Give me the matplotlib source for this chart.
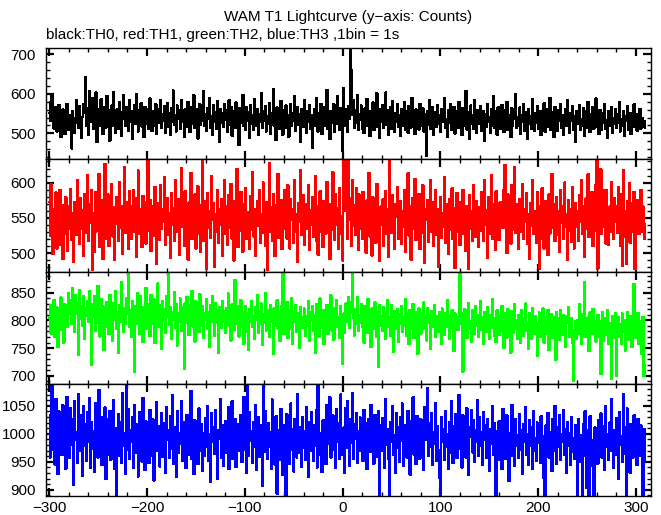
import numpy as np
import matplotlib
matplotlib.use("Agg")
import matplotlib.pyplot as plt
from matplotlib.ticker import MultipleLocator

plt.rcParams['font.family'] = ['Liberation Sans', 'DejaVu Sans']
plt.rcParams['font.size'] = 11

# 1 s bins, t = -300 .. 309
t_start = -300

th0 = [
    552, 531, 580, 598, 540, 512, 566, 523, 505, 548, 571, 529, 490, 537, 560, 544, 498, 521, 575, 533,
    509, 546, 520, 462, 555, 538, 501, 527, 584, 547, 515, 568, 530, 489, 541, 575, 552, 642, 520, 563,
    497, 607, 545, 528, 590, 512, 554, 536, 603, 478, 562, 541, 519, 586, 530, 499, 567, 548, 515, 595,
    526, 558, 481, 547, 570, 519, 604, 535, 502, 560, 543, 512, 578, 528, 493, 553, 596, 537, 518, 565,
    544, 507, 583, 529, 556, 486, 541, 571, 523, 600, 538, 505, 559, 532, 576, 517, 548, 490, 567, 539,
    524, 562, 511, 588, 535, 506, 555, 543, 520, 574, 498, 536, 561, 527, 585, 513, 549, 531, 568, 502,
    540, 577, 516, 552, 495, 563, 530, 608, 521, 546, 505, 570, 537, 558, 512, 584, 529, 547, 491, 561,
    534, 517, 579, 542, 503, 566, 525, 551, 596, 514, 538, 560, 487, 545, 573, 522, 556, 532, 606, 519,
    548, 507, 564, 536, 589, 515, 543, 497, 571, 528, 554, 511, 582, 539, 479, 562, 527, 550, 516, 575,
    533, 559, 504, 546, 584, 521, 567, 494, 540, 555, 513, 578, 530, 548, 470, 563, 526, 543, 597, 518,
    539, 508, 566, 531, 553, 488, 572, 524, 545, 510, 587, 535, 519, 561, 496, 549, 528, 602, 514, 557,
    532, 568, 505, 544, 523, 576, 499, 550, 537, 612, 520, 547, 483, 565, 529, 556, 511, 581, 534, 497,
    559, 526, 570, 513, 547, 491, 538, 574, 518, 552, 531, 595, 506, 543, 566, 522, 549, 478, 561, 535,
    517, 583, 540, 501, 557, 528, 571, 512, 546, 464, 536, 562, 520, 589, 533, 505, 551, 527, 574, 498,
    543, 518, 566, 532, 609, 511, 549, 486, 556, 527, 538, 574, 503, 560, 524, 593, 541, 509, 563, 530,
    455, 615, 520, 562, 541, 503, 568, 537, 740, 660, 548, 585, 515, 558, 527, 596, 509, 548, 533, 570,
    512, 546, 501, 563, 529, 587, 519, 541, 494, 557, 535, 578, 508, 550, 526, 601, 517, 544, 488, 562,
    530, 571, 514, 547, 603, 522, 558, 497, 539, 566, 511, 582, 533, 505, 552, 528, 574, 516, 545, 493,
    561, 520, 548, 579, 509, 537, 556, 502, 569, 531, 515, 590, 524, 543, 498, 560, 527, 552, 510, 575,
    536, 518, 563, 505, 549, 529, 442, 557, 521, 584, 512, 540, 566, 495, 531, 553, 516, 572, 524, 547,
    503, 561, 528, 545, 589, 514, 537, 492, 558, 526, 573, 509, 544, 521, 567, 500, 536, 555, 513, 580,
    529, 548, 496, 564, 519, 541, 607, 510, 553, 532, 487, 570, 525, 546, 511, 585, 534, 501, 559, 523,
    544, 568, 507, 530, 556, 481, 549, 517, 575, 528, 540, 502, 562, 520, 594, 513, 538, 555, 497, 566,
    526, 543, 511, 571, 535, 504, 558, 522, 580, 509, 547, 531, 490, 563, 518, 552, 536, 599, 514, 541,
    520, 565, 499, 546, 528, 573, 507, 539, 554, 485, 560, 523, 544, 512, 586, 530, 506, 551, 527, 569,
    511, 538, 557, 495, 549, 521, 576, 504, 533, 562, 516, 545, 589, 509, 529, 553, 491, 567, 524, 540,
    506, 558, 532, 574, 513, 547, 497, 539, 561, 518, 583, 527, 501, 550, 531, 568, 510, 543, 479, 557,
    525, 546, 572, 508, 536, 519, 563, 494, 541, 555, 515, 579, 528, 503, 548, 523, 566, 512, 537, 588,
    517, 542, 498, 559, 530, 508, 551, 526, 575, 511, 534, 489, 556, 520, 545, 567, 502, 538, 524, 561,
    513, 549, 527, 580, 505, 536, 520, 557, 493, 544, 531, 569, 510, 528, 552, 498, 540, 516, 573, 522,
    535, 507, 548, 527, 562, 512, 539, 520, 531, 515,
]

th1 = [
    573, 525, 598, 548, 499, 562, 531, 586, 507, 555, 538, 590, 512, 568, 492, 545, 527, 579, 551, 503,
    566, 534, 591, 519, 557, 488, 573, 541, 526, 604, 549, 513, 578, 535, 561, 497, 584, 529, 552, 610,
    518, 569, 543, 590, 477, 557, 502, 586, 531, 563, 545, 612, 509, 575, 538, 492, 559, 626, 521, 547,
    583, 510, 556, 534, 598, 524, 565, 491, 542, 579, 550, 517, 601, 536, 567, 499, 555, 622, 529, 573,
    541, 506, 588, 552, 520, 566, 589, 531, 578, 495, 554, 617, 527, 562, 540, 509, 581, 546, 572, 514,
    559, 631, 532, 575, 503, 548, 566, 525, 594, 539, 485, 571, 553, 519, 597, 535, 562, 544, 608, 512,
    547, 578, 526, 557, 493, 585, 540, 564, 518, 603, 551, 530, 576, 498, 559, 621, 537, 566, 510, 588,
    533, 556, 491, 572, 545, 614, 520, 561, 538, 583, 507, 549, 595, 528, 568, 502, 553, 631, 517, 574,
    544, 478, 585, 536, 560, 522, 609, 547, 571, 481, 556, 530, 590, 515, 562, 541, 577, 496, 551, 604,
    528, 566, 512, 582, 549, 536, 598, 521, 557, 490, 574, 543, 619, 509, 563, 532, 587, 545, 502, 569,
    537, 592, 520, 558, 546, 506, 581, 533, 615, 524, 563, 497, 552, 574, 539, 589, 515, 556, 529, 600,
    543, 511, 572, 476, 559, 627, 531, 565, 518, 584, 550, 496, 568, 537, 612, 522, 548, 575, 506, 560,
    534, 589, 553, 521, 596, 541, 507, 577, 548, 563, 515, 603, 530, 556, 488, 571, 544, 618, 526, 559,
    582, 512, 548, 569, 535, 597, 505, 561, 540, 580, 523, 551, 609, 517, 566, 498, 547, 588, 531, 562,
    509, 574, 545, 528, 601, 538, 556, 492, 570, 533, 615, 548, 519, 583, 541, 564, 506, 592, 527, 553,
    490, 635, 560, 630, 595, 521, 637, 548, 578, 511, 603, 539, 568, 526, 592, 547, 505, 583, 534, 561,
    520, 587, 543, 566, 501, 575, 538, 614, 524, 555, 497, 579, 546, 571, 515, 598, 532, 560, 489, 566,
    541, 576, 510, 556, 588, 527, 563, 495, 636, 549, 529, 582, 538, 507, 569, 551, 594, 520, 545, 574,
    513, 560, 537, 589, 502, 556, 543, 613, 525, 567, 491, 550, 578, 534, 605, 519, 561, 540, 584, 506,
    553, 529, 596, 537, 486, 562, 547, 575, 516, 558, 603, 531, 572, 510, 545, 590, 526, 563, 481, 548,
    580, 522, 557, 538, 608, 515, 569, 544, 499, 576, 533, 552, 592, 520, 564, 479, 547, 585, 530, 561,
    512, 573, 541, 590, 527, 556, 503, 567, 546, 478, 582, 535, 560, 518, 597, 541, 523, 574, 550, 509,
    565, 532, 586, 548, 517, 603, 540, 561, 494, 579, 528, 555, 611, 521, 569, 543, 505, 588, 535, 558,
    519, 572, 547, 572, 536, 590, 625, 561, 500, 583, 542, 566, 514, 597, 533, 555, 622, 529, 570, 547,
    506, 577, 551, 531, 598, 520, 563, 544, 585, 513, 556, 492, 571, 539, 604, 527, 560, 548, 515, 587,
    535, 478, 566, 521, 592, 547, 507, 574, 540, 561, 498, 583, 528, 553, 612, 536, 570, 517, 549, 579,
    526, 560, 502, 589, 543, 567, 520, 600, 537, 556, 491, 575, 532, 563, 516, 594, 548, 507, 571, 538,
    559, 517, 582, 545, 604, 528, 566, 495, 551, 578, 534, 612, 523, 569, 541, 587, 510, 557, 532, 596,
    636, 478, 575, 550, 619, 527, 561, 538, 589, 514, 590, 547, 512, 566, 530, 601, 552, 520, 578, 544,
    567, 529, 594, 541, 510, 583, 482, 618, 523, 560, 485, 574, 537, 599, 515, 548, 571, 530, 587, 478,
    562, 538, 575, 527, 553, 590, 531, 566, 542, 520,
]

th2 = [
    805, 828, 776, 812, 790, 837, 770, 801, 823, 752, 815, 795, 841, 783, 806, 760, 829, 798, 817, 788,
    849, 811, 836, 794, 858, 820, 779, 845, 812, 831, 738, 855, 802, 826, 790, 843, 767, 821, 808, 834,
    797, 852, 813, 720, 829, 806, 844, 781, 823, 795, 862, 810, 771, 838, 800, 825, 747, 816, 789, 833,
    808, 775, 846, 792, 819, 763, 831, 801, 852, 785, 814, 742, 827, 798, 869, 806, 779, 822, 794, 840,
    811, 887, 789, 818, 770, 835, 803, 707, 826, 794, 849, 812, 775, 843, 801, 824, 761, 817, 796, 858,
    785, 829, 806, 772, 846, 813, 793, 838, 759, 820, 804, 866, 788, 827, 811, 749, 835, 799, 820, 778,
    843, 807, 886, 792, 824, 767, 815, 801, 850, 786, 829, 755, 812, 797, 839, 781, 823, 808, 713, 831,
    796, 842, 810, 774, 828, 803, 853, 789, 817, 762, 834, 800, 821, 779, 847, 806, 790, 825, 768, 813,
    801, 838, 784, 815, 752, 827, 798, 843, 808, 773, 831, 795, 818, 742, 824, 805, 786, 834, 797, 816,
    777, 822, 803, 848, 790, 811, 764, 829, 800, 783, 873, 812, 793, 826, 771, 808, 836, 788, 815, 758,
    804, 826, 780, 812, 747, 820, 797, 835, 789, 808, 766, 824, 801, 845, 778, 817, 793, 830, 756, 811,
    795, 849, 782, 818, 803, 771, 827, 798, 812, 740, 822, 791, 807, 836, 785, 814, 763, 802, 826, 886,
    775, 810, 796, 833, 768, 819, 804, 785, 840, 757, 814, 798, 828, 780, 812, 791, 750, 823, 805, 786,
    797, 821, 772, 808, 790, 835, 763, 815, 800, 826, 781, 810, 742, 829, 795, 812, 771, 839, 803, 786,
    818, 758, 805, 791, 827, 776, 813, 798, 845, 782, 809, 765, 822, 801, 837, 788, 806, 769, 825, 794,
    722, 812, 778, 830, 797, 807, 841, 786, 814, 832, 888, 805, 773, 820, 793, 842, 781, 810, 796, 829,
    788, 815, 760, 826, 801, 777, 838, 794, 809, 752, 821, 799, 784, 832, 806, 771, 815, 717, 827, 790,
    808, 781, 823, 796, 767, 814, 836, 789, 806, 773, 828, 797, 744, 817, 802, 785, 820, 761, 811, 793,
    826, 779, 805, 791, 838, 772, 812, 796, 757, 819, 803, 784, 829, 768, 808, 792, 815, 740, 821, 798,
    776, 813, 800, 832, 785, 807, 764, 822, 795, 810, 749, 817, 789, 803, 828, 771, 808, 793, 779, 815,
    802, 758, 821, 795, 774, 812, 788, 836, 799, 766, 808, 791, 818, 786, 745, 812, 798, 798, 783, 806,
    886, 794, 812, 708, 781, 820, 796, 768, 807, 831, 785, 799, 762, 818, 803, 776, 825, 790, 809, 771,
    797, 835, 783, 806, 758, 815, 792, 779, 823, 801, 767, 810, 786, 838, 795, 772, 804, 761, 818, 789,
    774, 808, 793, 826, 781, 750, 812, 797, 769, 820, 788, 805, 742, 816, 795, 778, 829, 784, 801, 766,
    810, 787, 759, 818, 796, 772, 804, 830, 781, 795, 748, 813, 790, 767, 822, 799, 776, 808, 785, 736,
    794, 814, 770, 801, 783, 821, 760, 805, 789, 776, 818, 747, 797, 811, 784, 768, 806, 792, 729, 815,
    780, 803, 765, 819, 791, 774, 810, 786, 752, 807, 795, 823, 771, 789, 804, 760, 692, 782, 798, 767,
    801, 776, 829, 790, 758, 811, 783, 868, 770, 796, 788, 805, 745, 814, 792, 775, 820, 784, 799, 762,
    787, 810, 771, 798, 703, 782, 815, 763, 804, 791, 774, 819, 758, 795, 781, 694, 808, 769, 790, 812,
    700, 785, 806, 770, 793, 758, 812, 779, 801, 746, 788, 814, 765, 797, 780, 808, 752, 791, 865, 802,
    768, 790, 813, 757, 784, 799, 740, 806, 700, 720,
]

th3 = [
    1000, 958, 1035, 1089, 972, 1018, 945, 1062, 991, 928, 1040, 983, 1009, 962, 1051, 976, 1024, 938, 1066, 995,
    1012, 957, 1046, 981, 1027, 909, 1058, 989, 1003, 948, 1071, 969, 1034, 996, 925, 1049, 978, 1017, 952, 1039,
    986, 1063, 940, 1021, 973, 1005, 932, 1055, 990, 1013, 958, 1078, 967, 1030, 944, 1008, 984, 1047, 919, 1026,
    963, 1001, 1041, 954, 1016, 975, 1060, 938, 1010, 889, 993, 1035, 961, 1020, 948, 1073, 979, 1002, 929, 1089,
    971, 1044, 956, 1007, 985, 1029, 940, 1052, 997, 966, 1018, 924, 1038, 981, 1011, 950, 1064, 988, 935, 1022,
    976, 1009, 948, 1043, 993, 961, 1026, 917, 1003, 984, 1056, 970, 1014, 942, 998, 1037, 959, 1019, 981, 931,
    1048, 989, 1006, 957, 1031, 973, 1069, 946, 1012, 990, 924, 1040, 966, 1001, 983, 1059, 952, 1021, 975, 1004,
    939, 1034, 987, 962, 1015, 1076, 955, 997, 928, 1024, 980, 1008, 946, 1045, 969, 993, 1017, 934, 1002, 961,
    1028, 977, 1050, 951, 999, 915, 1037, 985, 1011, 964, 1042, 975, 920, 1006, 991, 1062, 958, 1015, 943, 988,
    1023, 966, 1003, 1047, 937, 1010, 982, 1058, 955, 996, 1026, 941, 1017, 970, 1008, 985, 1033, 950, 994, 1066,
    972, 1013, 930, 1089, 961, 1038, 987, 1005, 948, 1021, 976, 1052, 935, 999, 1029, 959, 1015, 981, 908, 1089,
    968, 1040, 995, 956, 1019, 977, 1003, 938, 1061, 984, 1012, 945, 1031, 893, 971, 1007, 953, 1044, 988, 926,
    1016, 962, 889, 1035, 980, 1002, 947, 1054, 971, 1009, 933, 1026, 990, 958, 1071, 967, 1012, 985, 941, 1030,
    975, 1005, 954, 1048, 988, 923, 1020, 969, 1038, 996, 951, 1015, 979, 1043, 940, 1089, 962, 1001, 985, 932,
    1024, 971, 1009, 946, 1052, 983, 1016, 1065, 958, 997, 1033, 972, 1001, 939, 1044, 986, 1019, 955, 1070, 990,
    962, 1011, 930, 1046, 975, 1059, 1001, 943, 1027, 984, 1073, 956, 1018, 991, 1037, 948, 1004, 969, 1029, 977,
    1008, 951, 1043, 983, 1019, 937, 996, 1026, 968, 1052, 985, 1012, 947, 1034, 976, 1001, 959, 1040, 889, 1015,
    970, 1028, 993, 940, 1062, 981, 1009, 955, 889, 1020, 986, 1049, 962, 998, 931, 1037, 975, 1011, 950, 1030,
    988, 1054, 943, 1016, 973, 1002, 958, 1041, 981, 927, 1023, 995, 1065, 963, 1009, 946, 1032, 979, 1000, 956,
    1026, 969, 1012, 935, 1047, 990, 1006, 1082, 961, 1019, 976, 1037, 944, 1003, 983, 1055, 952, 1014, 971, 922,
    889, 1029, 985, 1008, 954, 1040, 977, 999, 938, 1021, 966, 1058, 992, 948, 1013, 979, 1035, 957, 1002, 1069,
    973, 1017, 940, 1033, 988, 1005, 958, 1046, 982, 926, 1011, 995, 1043, 967, 1024, 950, 1007, 985, 1060, 961,
    1030, 978, 1003, 944, 1038, 989, 1015, 957, 1026, 971, 934, 1008, 983, 1049, 962, 1019, 976, 889, 1004, 953,
    1022, 968, 995, 937, 1044, 982, 1010, 955, 1033, 974, 916, 1001, 987, 1052, 960, 1016, 943, 1027, 979, 998,
    957, 1035, 972, 1006, 929, 1018, 986, 1047, 963, 1000, 945, 1024, 978, 1011, 938, 1040, 970, 993, 951, 1020,
    984, 1009, 948, 1031, 967, 996, 921, 889, 1015, 975, 1037, 958, 1003, 982, 934, 1026, 969, 1050, 992, 947,
    1012, 976, 1034, 953, 999, 985, 1043, 962, 1008, 931, 1021, 979, 1002, 944, 1029, 968, 993, 956, 1016, 973,
    889, 1027, 950, 998, 983, 889, 1018, 961, 1040, 975, 903, 1006, 889, 1031, 966, 989, 942, 889, 1011, 978,
    1003, 947, 1024, 971, 1036, 958, 990, 1013, 935, 1049, 977, 1000, 954, 1020, 969, 1062, 985, 940, 1007, 962,
    1028, 975, 919, 1038, 981, 996, 950, 1071, 964, 1012, 889, 1045, 972, 1005, 931, 1018, 986, 958, 1033, 970,
    1002, 944, 1026, 983, 961, 1015, 975, 889, 1009, 952,
]

series = [th0, th1, th2, th3]
colors = ["black", "#ff0000", "#00ff00", "#0000ff"]
ylims = [(435, 716), (473.5, 633.5), (685.5, 887), (889, 1089)]
y_major = [100, 50, 50, 50]
y_minor = [20, 10, 10, 10]

W, H = 661, 515
fig = plt.figure(figsize=(W / 100, H / 100), dpi=100)

left_px, right_px = 45.5, 651
edges_px = [48, 159, 272, 384, 496]

for i, (vals, col) in enumerate(zip(series, colors)):
    top, bot = edges_px[i], edges_px[i + 1]
    ax = fig.add_axes([left_px / W, 1 - bot / H, (right_px - left_px) / W, (bot - top) / H])
    t = np.arange(len(vals)) + t_start
    # histogram-like steps, hard pixels like the original plotter
    ax.plot(t, vals, color=col, lw=1.0, drawstyle="steps-mid", antialiased=False)
    ax.set_xlim(-303.8, 315.3)
    ax.set_ylim(*ylims[i])
    ax.xaxis.set_major_locator(MultipleLocator(100))
    ax.xaxis.set_minor_locator(MultipleLocator(20))
    ax.yaxis.set_major_locator(MultipleLocator(y_major[i]))
    ax.yaxis.set_minor_locator(MultipleLocator(y_minor[i]))
    ax.tick_params(which="both", direction="in", top=True, right=True, colors="black")
    ax.tick_params(which="major", length=6, width=1.6, pad=3.5)
    ax.tick_params(which="minor", length=3, width=1.0)
    ax.tick_params(axis="y", which="major", pad=7, labelsize=11)
    for sp in ax.spines.values():
        sp.set_linewidth(1.0)
    if i < 3:
        ax.tick_params(axis="x", labelbottom=False)
    else:
        ax.tick_params(axis="x", labelsize=11)

fig.text(348 / W, 1 - 17 / H, "WAM T1 Lightcurve (y\u2212axis: Counts)",
         ha="center", va="center", fontsize=11)
fig.text(left_px / W, 1 - 35 / H, "black:TH0, red:TH1, green:TH2, blue:TH3 ,1bin = 1s",
         ha="left", va="center", fontsize=11)

fig.savefig("out.png", dpi=100)
